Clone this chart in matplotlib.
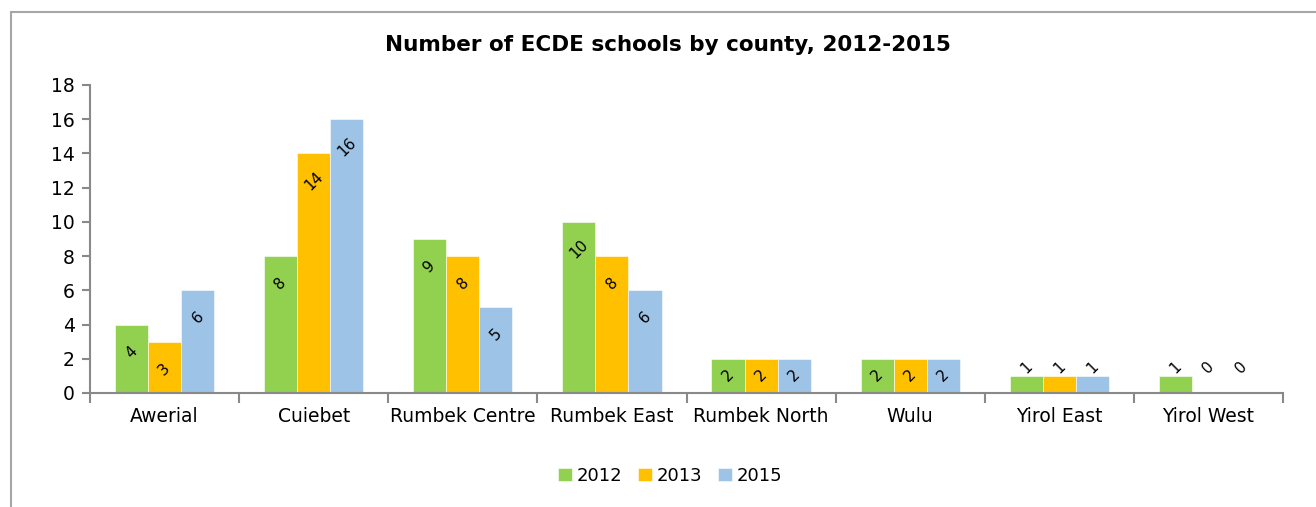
import matplotlib.pyplot as plt
from matplotlib.patches import Rectangle
import numpy as np

COUNTIES = ['Awerial', 'Cuiebet', 'Rumbek Centre', 'Rumbek East',
            'Rumbek North', 'Wulu', 'Yirol East', 'Yirol West']
YEARS = ['2012', '2013', '2015']
SCHOOLS_2012 = [4, 8, 9, 10, 2, 2, 1, 1]
SCHOOLS_2013 = [3, 14, 8, 8, 2, 2, 1, 0]
SCHOOLS_2015 = [6, 16, 5, 6, 2, 2, 1, 0]

COLORS = ['#92D050', '#FFC000', '#9DC3E6']
AXIS_GRAY = '#898989'

plt.rcParams['font.family'] = ['DejaVu Sans']

fig = plt.figure(figsize=(13.16, 5.07), dpi=100)
W, H = 1316, 507
ax = fig.add_axes([90 / W, 1 - 393 / H, (1283 - 90) / W, (393 - 85) / H])

# outer chart frame
fig.patches.append(Rectangle((11 / W, -0.1), 1.2, 1 - 12 / H + 0.1,
                             transform=fig.transFigure, fill=False,
                             edgecolor='#A6A6A6', linewidth=1.5))


def label_y(v):
    # value labels sit just inside the bar end; short bars push them up
    if v >= 3:
        return v - 1.6
    if v == 2:
        return 1.0
    return 1.5


x = np.arange(len(COUNTIES))
bar_w = 0.222
series = [SCHOOLS_2012, SCHOOLS_2013, SCHOOLS_2015]
for i, (vals, color, year) in enumerate(zip(series, COLORS, YEARS)):
    pos = x + (i - 1) * bar_w
    ax.bar(pos, vals, width=bar_w, color=color, label=year,
           edgecolor='white', linewidth=0.4)
    for p, v in zip(pos, vals):
        ax.text(p, label_y(v), f'{v}', rotation=45, ha='center', va='center',
                fontsize=11, color='black')

ax.set_xlim(-0.5, len(COUNTIES) - 0.5)
ax.set_ylim(0, 18)
ax.set_yticks(range(0, 19, 2))
ax.set_xticks(x)
ax.set_xticklabels(COUNTIES)
ax.set_xticks(np.arange(-0.5, len(COUNTIES)), minor=True)
ax.tick_params(axis='x', which='major', length=0, pad=10, labelsize=13.5)
ax.tick_params(axis='x', which='minor', length=7, color=AXIS_GRAY, width=1.5)
ax.tick_params(axis='y', length=6, color=AXIS_GRAY, width=1.5,
               labelsize=13.5, pad=5)
for side in ('top', 'right'):
    ax.spines[side].set_visible(False)
for side in ('left', 'bottom'):
    ax.spines[side].set_color(AXIS_GRAY)
    ax.spines[side].set_linewidth(1.5)

fig.text(668 / W, 1 - 45 / H, 'Number of ECDE schools by county, 2012-2015',
         ha='center', va='center', fontsize=15.5, fontweight='bold')

fig.legend(loc='center', bbox_to_anchor=(670 / W, 1 - 476 / H), ncol=3,
           frameon=False, fontsize=13, handlelength=0.75, handleheight=0.75,
           handletextpad=0.25, columnspacing=0.9)

fig.savefig('out.png', dpi=100)
